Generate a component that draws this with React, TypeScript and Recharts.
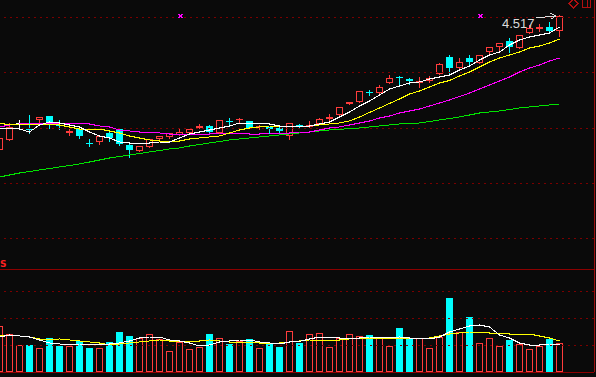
import { Bar, ComposedChart, Line, ReferenceDot, ReferenceLine, XAxis, YAxis } from "recharts";

// daily candles, oldest first
const opens = [3.977, 4.017, 4.085, 4.063, 4.097, 4.113, 4.079, 4.047, 4.061, 4.007, 4.009, 4.045, 4.061, 3.997, 3.973, 3.989, 4.021, 4.029, 4.037, 4.045, 4.065, 4.073, 4.045, 4.095, 4.099, 4.093, 4.069, 4.067, 4.065, 4.033, 4.075, 4.071, 4.081, 4.101, 4.117, 4.161, 4.169, 4.209, 4.205, 4.245, 4.271, 4.259, 4.245, 4.253, 4.281, 4.349, 4.305, 4.345, 4.325, 4.369, 4.389, 4.413, 4.385, 4.445, 4.461, 4.469, 4.453];
const highs = [4.033, 4.085, 4.097, 4.117, 4.109, 4.113, 4.097, 4.061, 4.061, 4.021, 4.033, 4.049, 4.065, 4.009, 3.993, 4.021, 4.033, 4.045, 4.065, 4.061, 4.081, 4.077, 4.097, 4.105, 4.105, 4.093, 4.077, 4.069, 4.069, 4.085, 4.081, 4.093, 4.105, 4.121, 4.149, 4.169, 4.213, 4.217, 4.237, 4.277, 4.273, 4.265, 4.269, 4.273, 4.325, 4.357, 4.345, 4.357, 4.357, 4.389, 4.405, 4.425, 4.437, 4.477, 4.481, 4.489, 4.517];
const lows = [3.973, 4.017, 4.069, 4.045, 4.089, 4.065, 4.061, 4.037, 4.025, 3.993, 4.001, 4.013, 3.997, 3.949, 3.973, 3.989, 4.021, 4.025, 4.037, 4.045, 4.065, 4.049, 4.045, 4.081, 4.089, 4.065, 4.061, 4.045, 4.049, 4.021, 4.065, 4.069, 4.081, 4.093, 4.109, 4.161, 4.169, 4.197, 4.205, 4.245, 4.233, 4.241, 4.229, 4.249, 4.281, 4.277, 4.305, 4.313, 4.325, 4.357, 4.369, 4.369, 4.385, 4.445, 4.453, 4.453, 4.433];
const closes = [4.025, 4.069, 4.085, 4.059, 4.109, 4.089, 4.075, 4.051, 4.033, 4.003, 4.033, 4.025, 4.001, 3.977, 3.993, 4.021, 4.033, 4.045, 4.049, 4.061, 4.073, 4.049, 4.097, 4.091, 4.103, 4.065, 4.073, 4.063, 4.053, 4.085, 4.071, 4.075, 4.101, 4.109, 4.149, 4.169, 4.213, 4.205, 4.229, 4.265, 4.267, 4.255, 4.253, 4.265, 4.321, 4.305, 4.329, 4.329, 4.357, 4.389, 4.405, 4.389, 4.437, 4.465, 4.469, 4.453, 4.513];

const ma5 = [4.065, 4.065, 4.061, 4.049, 4.077, 4.089, 4.085, 4.077, 4.069, 4.049, 4.033, 4.025, 4.009, 4.005, 4.005, 4.005, 4.009, 4.009, 4.025, 4.041, 4.049, 4.057, 4.065, 4.073, 4.085, 4.085, 4.085, 4.081, 4.073, 4.073, 4.073, 4.073, 4.081, 4.089, 4.109, 4.129, 4.153, 4.173, 4.197, 4.221, 4.233, 4.245, 4.249, 4.261, 4.269, 4.277, 4.297, 4.313, 4.337, 4.357, 4.369, 4.397, 4.417, 4.429, 4.437, 4.445, 4.469];
const ma10 = [4.085, 4.077, 4.081, 4.081, 4.081, 4.081, 4.077, 4.069, 4.061, 4.061, 4.061, 4.053, 4.045, 4.033, 4.025, 4.017, 4.013, 4.013, 4.013, 4.021, 4.025, 4.029, 4.033, 4.045, 4.057, 4.065, 4.069, 4.073, 4.073, 4.073, 4.073, 4.073, 4.077, 4.081, 4.085, 4.093, 4.109, 4.127, 4.145, 4.163, 4.181, 4.201, 4.213, 4.229, 4.245, 4.255, 4.273, 4.289, 4.309, 4.329, 4.345, 4.357, 4.369, 4.385, 4.393, 4.405, 4.421];
const ma20 = [4.069, 4.077, 4.081, 4.085, 4.085, 4.085, 4.085, 4.085, 4.085, 4.081, 4.073, 4.069, 4.057, 4.053, 4.049, 4.049, 4.045, 4.041, 4.041, 4.041, 4.041, 4.041, 4.045, 4.045, 4.045, 4.041, 4.041, 4.045, 4.045, 4.045, 4.049, 4.049, 4.057, 4.065, 4.069, 4.077, 4.085, 4.093, 4.105, 4.113, 4.125, 4.133, 4.141, 4.153, 4.165, 4.177, 4.191, 4.205, 4.221, 4.237, 4.253, 4.269, 4.289, 4.305, 4.317, 4.333, 4.345];
const ma60 = [3.869, 3.877, 3.885, 3.891, 3.897, 3.903, 3.909, 3.915, 3.921, 3.929, 3.937, 3.945, 3.951, 3.957, 3.963, 3.969, 3.975, 3.981, 3.985, 3.993, 3.999, 4.005, 4.011, 4.017, 4.021, 4.025, 4.029, 4.033, 4.037, 4.041, 4.045, 4.049, 4.053, 4.057, 4.059, 4.063, 4.065, 4.069, 4.073, 4.077, 4.081, 4.083, 4.085, 4.091, 4.097, 4.103, 4.109, 4.117, 4.125, 4.129, 4.133, 4.139, 4.145, 4.149, 4.153, 4.157, 4.161];

const volumes = [46000, 38000, 27000, 27000, 24000, 34000, 26000, 26000, 31000, 24000, 24000, 30000, 40000, 36000, 34000, 38000, 33000, 21000, 30000, 23000, 25000, 38000, 34000, 28000, 31000, 33000, 24000, 29000, 25000, 41000, 29000, 38000, 39000, 25000, 34000, 38000, 36000, 37000, 35000, 26000, 44000, 33000, 34000, 24000, 35000, 74000, 40000, 55000, 29000, 34000, 26000, 32000, 28000, 23000, 26000, 33000, 29000];
const volMa5 = [35000, 37000, 36000, 35000, 32000, 29000, 28000, 27000, 28000, 28000, 28000, 28000, 29000, 31000, 34000, 35000, 35000, 32000, 31000, 29000, 26000, 27000, 30000, 31000, 32000, 32000, 30000, 29000, 28000, 30000, 30500, 33000, 35000, 35000, 34000, 34000, 34000, 35000, 35000, 34000, 35000, 34000, 34000, 33000, 35000, 40000, 43000, 46000, 47000, 45000, 37000, 34000, 29000, 27000, 27000, 28000, 28000];
const volMa10 = [37000, 37000, 36000, 35000, 33000, 32000, 33000, 32000, 31000, 30000, 29000, 27000, 28000, 29000, 30000, 31000, 32000, 31000, 31000, 31000, 31000, 32000, 31000, 30000, 30000, 30000, 29000, 29000, 29000, 30000, 31000, 32000, 32000, 32000, 32000, 33000, 34000, 34000, 34000, 34000, 34000, 34000, 34000, 34000, 36000, 38000, 39000, 40000, 40000, 39000, 39000, 38000, 38000, 38000, 36000, 34000, 31000];

const priceGrid = [4.509, 4.289, 4.065, 3.845, 3.625];
const volGrid = [27000, 54000, 81000];
const markerIdx = [18, 48];
const highIdx = 56;
const highLabel = "4.517";

const BG = "#0a0a0a";
const RED = "#ff3c3c";
const CYAN = "#00ffff";
const GRID = "#7a0000";
const FRAME = "#8c0000";

const data = closes.map((close, i) => ({
  i,
  open: opens[i],
  high: highs[i],
  low: lows[i],
  close,
  range: [lows[i], highs[i]],
  ma5: ma5[i],
  ma10: ma10[i],
  ma20: ma20[i],
  ma60: ma60[i],
  vol: volumes[i],
  vma5: volMa5[i],
  vma10: volMa10[i],
}));

function Candle(props: any) {
  const { x, y, width, height, payload } = props;
  const { open, close, high, low } = payload;
  const span = high - low || 1;
  const toY = (v: number) => Math.round(y + ((high - v) / span) * height);
  const cx = Math.floor(x + width / 2) + 0.5;
  const top = toY(Math.max(open, close));
  const bot = toY(Math.min(open, close));
  const hy = toY(high);
  const ly = toY(low);
  const color = close > open ? RED : close < open ? CYAN : "#ffffff";

  if (bot - top < 2) {
    return (
      <g stroke={color}>
        <line x1={cx} x2={cx} y1={hy} y2={ly + 1} />
        <line x1={cx - 3.5} x2={cx + 3.5} y1={top + 0.5} y2={top + 0.5} />
      </g>
    );
  }
  if (close > open) {
    return (
      <g stroke={color}>
        <line x1={cx} x2={cx} y1={hy} y2={top} />
        <line x1={cx} x2={cx} y1={bot} y2={ly + 1} />
        <rect x={cx - 3} y={top + 0.5} width={6} height={bot - top - 1} fill={BG} />
      </g>
    );
  }
  return (
    <g>
      <line x1={cx} x2={cx} y1={hy} y2={ly + 1} stroke={color} />
      <rect x={cx - 3.5} y={top} width={7} height={bot - top} fill={color} />
    </g>
  );
}

function VolBar(props: any) {
  const { x, y, width, height, payload } = props;
  const cx = Math.floor(x + width / 2) + 0.5;
  const top = Math.round(y);
  const bot = Math.round(y + height);
  if (payload.close >= payload.open) {
    return <rect x={cx - 3} y={top + 0.5} width={6} height={bot - top - 1} fill={BG} stroke={RED} />;
  }
  return <rect x={cx - 3.5} y={top} width={7} height={bot - top} fill={CYAN} />;
}

function Cross(props: any) {
  const { cx, cy } = props;
  return (
    <g stroke="#ff00ff">
      <line x1={cx - 1} y1={cy - 1} x2={cx + 3} y2={cy + 3} />
      <line x1={cx + 3} y1={cy - 1} x2={cx - 1} y2={cy + 3} />
    </g>
  );
}

function HighTag(props: any) {
  const { cx, cy } = props;
  return (
    <g>
      <text x={cx - 25} y={cy + 13} textAnchor="end" fill="#dcdcdc" fontSize={13} fontFamily="'Liberation Sans', Arial, sans-serif">
        {highLabel}
      </text>
      <g stroke="#dcdcdc" fill="none">
        <line x1={cx - 23} y1={cy + 3} x2={cx - 5} y2={cy + 1} />
        <polyline points={`${cx - 9},${cy - 2} ${cx - 4},${cy + 1} ${cx - 8},${cy + 4}`} />
      </g>
    </g>
  );
}

const xDomain = [0.05, 59.45];

export default function App() {
  return (
    <div style={{ position: "absolute", left: 0, top: 0, width: 596, height: 377, background: BG, overflow: "hidden", shapeRendering: "crispEdges" }}>
      <ComposedChart width={596} height={270} data={data} margin={{ top: 0, right: 0, bottom: 1, left: 0 }}>
        <XAxis type="number" dataKey="i" domain={xDomain} allowDataOverflow hide />
        <YAxis orientation="right" domain={[3.501, 4.577]} allowDataOverflow width={2} tickSize={2} tick={false} tickCount={16} axisLine={{ stroke: "#9a1010" }} tickLine={{ stroke: "#9a1010" }} />
        {priceGrid.map((p) => (
          <ReferenceLine key={p} y={p} stroke={GRID} strokeDasharray="2 4" />
        ))}
        <ReferenceLine y={3.501} stroke={FRAME} />
        <Bar dataKey="range" barSize={7} shape={<Candle />} isAnimationActive={false} />
        <Line dataKey="ma60" stroke="#00e400" dot={false} strokeWidth={1} isAnimationActive={false} />
        <Line dataKey="ma20" stroke="#ff00ff" dot={false} strokeWidth={1} isAnimationActive={false} />
        <Line dataKey="ma10" stroke="#ffff00" dot={false} strokeWidth={1} isAnimationActive={false} />
        <Line dataKey="ma5" stroke="#ffffff" dot={false} strokeWidth={1} isAnimationActive={false} />
        {markerIdx.map((m) => (
          <ReferenceDot key={m} x={m} y={highs[highIdx]} r={0} shape={<Cross />} />
        ))}
        <ReferenceDot x={highIdx} y={highs[highIdx]} r={0} shape={<HighTag />} />
      </ComposedChart>
      <div style={{ position: "absolute", left: 0, top: 269 }}>
        <ComposedChart width={596} height={108} data={data} margin={{ top: 0, right: 0, bottom: 5, left: 0 }}>
          <XAxis type="number" dataKey="i" domain={xDomain} allowDataOverflow hide />
          <YAxis orientation="right" domain={[0, 103000]} allowDataOverflow width={2} tickSize={2} tick={false} tickCount={5} axisLine={{ stroke: "#9a1010" }} tickLine={{ stroke: "#9a1010" }} />
          {volGrid.map((v) => (
            <ReferenceLine key={v} y={v} stroke={GRID} strokeDasharray="2 4" />
          ))}
          <ReferenceLine y={0} stroke={FRAME} />
          <Bar dataKey="vol" barSize={7} shape={<VolBar />} isAnimationActive={false} />
          <Line dataKey="vma10" stroke="#ffff00" dot={false} strokeWidth={1} isAnimationActive={false} />
          <Line dataKey="vma5" stroke="#ffffff" dot={false} strokeWidth={1} isAnimationActive={false} />
        </ComposedChart>
      </div>
      <svg width={596} height={377} style={{ position: "absolute", left: 0, top: 0, pointerEvents: "none" }}>
        <g fill="none" stroke="#b01010">
          <polygon points="573.5,-1 578,3.5 573.5,8 569,3.5" />
          <rect x={582.5} y={-1} width={8} height={8} />
          <line x1={587.5} y1={-1} x2={587.5} y2={7} />
        </g>
        <text x={0} y={267} fill="#ff2020" fontSize={9} fontWeight="bold" fontFamily="'DejaVu Sans', sans-serif">
          S
        </text>
      </svg>
    </div>
  );
}
